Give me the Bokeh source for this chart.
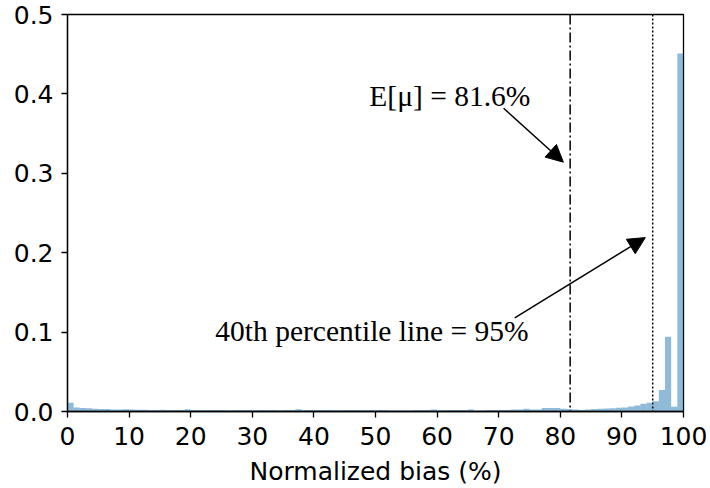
from bokeh.plotting import figure
from bokeh.models import Range1d, FixedTicker, Arrow, NormalHead, Span, ColumnDataSource
from bokeh.core.properties import value
from bokeh.embed import file_html
from bokeh.resources import INLINE

# ---- data ----
bin_left = list(range(0, 100))
bin_right = list(range(1, 101))
freq = [
    0.011, 0.005, 0.0045, 0.0042, 0.0035, 0.003, 0.003, 0.0026, 0.0025, 0.0028,
    0.0025, 0.0022, 0.0022, 0.002, 0.002, 0.0022, 0.002, 0.002, 0.002, 0.0028,
    0.002, 0.002, 0.002, 0.002, 0.002, 0.002, 0.0015, 0.002, 0.002, 0.002,
    0.0015, 0.002, 0.002, 0.002, 0.0015, 0.002, 0.002, 0.0028, 0.002, 0.002,
    0.002, 0.002, 0.002, 0.0015, 0.0015, 0.002, 0.002, 0.002, 0.0015, 0.002,
    0.002, 0.002, 0.0013, 0.0013, 0.0013, 0.0013, 0.002, 0.002, 0.002, 0.0026,
    0.0015, 0.002, 0.002, 0.002, 0.002, 0.0026, 0.0013, 0.0013, 0.002, 0.002,
    0.002, 0.002, 0.0026, 0.0026, 0.0036, 0.0026, 0.0026, 0.0045, 0.0045, 0.0045,
    0.0034, 0.003, 0.0025, 0.002, 0.0025, 0.003, 0.0034, 0.0038, 0.0042, 0.0046,
    0.005, 0.0063, 0.0076, 0.0097, 0.011, 0.013, 0.027, 0.094, 0.006, 0.451,
]
x_ticks = [0, 10, 20, 30, 40, 50, 60, 70, 80, 90, 100]
y_ticks = [0.0, 0.1, 0.2, 0.3, 0.4, 0.5]
mean_bias = 81.6
pct40_line = 95.0
mean_label = "E[μ] = 81.6%"
pct_label = "40th percentile line = 95%"
x_label = "Normalized bias (%)"

# annotation anchors (data coords)
mean_text_xy = (49.0, 0.397)
mean_arrow = (70.8, 0.382, 80.5, 0.314)
pct_text_xy = (24.0, 0.102)
pct_arrow = (72.6, 0.118, 93.8, 0.219)

p = figure(width=710, height=488, output_backend="svg", toolbar_location=None,
           x_range=Range1d(0, 100), y_range=Range1d(0, 0.5),
           min_border_left=67, min_border_right=27, min_border_top=14, min_border_bottom=77)
p.background_fill_color = "white"
p.border_fill_color = "white"
p.grid.visible = False
p.outline_line_color = "black"
p.outline_line_width = 1.3

src = ColumnDataSource(dict(left=bin_left, right=bin_right, top=freq))
p.quad(left="left", right="right", top="top", bottom=0, source=src,
       fill_color="#1f77b4", fill_alpha=0.5, line_color=None)

p.add_layout(Span(location=mean_bias, dimension="height", line_color="black",
                  line_width=1.5, line_dash="10 3 2 3"))
p.add_layout(Span(location=pct40_line, dimension="height", line_color="black",
                  line_width=1.5, line_dash="2 2"))

serif = value("Liberation Serif")
p.text(x=[mean_text_xy[0]], y=[mean_text_xy[1]], text=[mean_label], text_font=serif,
       text_font_size="29.5px", text_align="left", text_baseline="middle", text_color="black")
p.text(x=[pct_text_xy[0]], y=[pct_text_xy[1]], text=[pct_label], text_font=serif,
       text_font_size="29.5px", text_align="left", text_baseline="middle", text_color="black")

for (x0, y0, x1, y1) in (mean_arrow, pct_arrow):
    p.add_layout(Arrow(x_start=x0, y_start=y0, x_end=x1, y_end=y1, line_width=1.5,
                       line_color="black",
                       end=NormalHead(size=17, fill_color="black", line_color="black")))

for ax in (p.xaxis[0], p.yaxis[0]):
    ax.axis_line_color = "black"
    ax.axis_line_width = 1.3
    ax.major_tick_line_color = "black"
    ax.major_tick_line_width = 1.3
    ax.major_tick_out = 6
    ax.major_tick_in = 0
    ax.minor_tick_line_color = None
    ax.major_label_text_font = "DejaVu Sans"
    ax.major_label_text_font_size = "25px"
    ax.major_label_text_color = "black"

p.xaxis.ticker = FixedTicker(ticks=x_ticks)
p.yaxis.ticker = FixedTicker(ticks=y_ticks)
p.xaxis.major_label_overrides = {t: str(t) for t in x_ticks}
p.yaxis.major_label_overrides = {t: f"{t:.1f}" for t in y_ticks}
p.xaxis.major_label_standoff = 9
p.yaxis.major_label_standoff = 8
p.xaxis.axis_label = x_label
p.xaxis.axis_label_text_font = "DejaVu Sans"
p.xaxis.axis_label_text_font_size = "25px"
p.xaxis.axis_label_text_font_style = "normal"
p.xaxis.axis_label_text_color = "black"
p.xaxis.axis_label_text_line_height = 0.6
p.xaxis.axis_label_standoff = 9

open("out.html", "w").write(file_html(p, INLINE))
